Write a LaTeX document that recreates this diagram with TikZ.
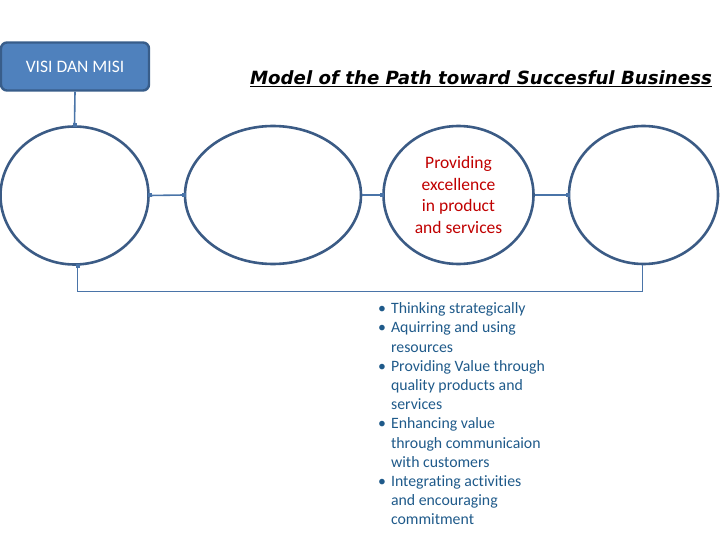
\documentclass[tikz,border=0pt]{standalone}
\usepackage{fontspec}
\setmainfont{Carlito}[Ligatures=NoCommon]
\newfontfamily\titlefont{DejaVu Sans}
\usetikzlibrary{shapes.geometric,calc}
\definecolor{boxfill}{HTML}{4F81BD}
\definecolor{boxline}{HTML}{385D8A}
\definecolor{ringline}{HTML}{3B5B85}
\definecolor{conn}{HTML}{4A74A8}
\definecolor{redtxt}{HTML}{C00000}
\definecolor{bluetxt}{HTML}{1F5A8A}
\tikzset{
  ring/.style={ellipse, draw=ringline, line width=2.6pt, inner sep=0pt},
  link/.style={draw=conn, line width=1.6pt},
  thin link/.style={draw=conn, line width=1pt},
  dot/.style={fill=conn, minimum size=4pt, inner sep=0pt, rectangle}
}
\begin{document}
\begin{tikzpicture}[x=1pt,y=-1pt]
\useasboundingbox (0,0) rectangle (720,540);
% top box
\node[rectangle, rounded corners=6pt, fill=boxfill, draw=boxline, line width=2.4pt,
      minimum width=148pt, minimum height=48pt, text=white,
      font=\fontsize{17.5}{20}\selectfont] (vm) at (75,66.5) {VISI DAN MISI};
% title
\node[font=\titlefont\bfseries\itshape\fontsize{18.2}{22}\selectfont, anchor=base] (title) at (481,85)
  {\underline{Model of the Path toward Succesful Business}};
% rings
\node[ring, minimum width=148pt, minimum height=138pt] (c1) at (74.5,195.5) {};
\node[ring, minimum width=176pt, minimum height=138pt] (c2) at (273,195) {};
\node[ring, minimum width=150pt, minimum height=138pt, text=redtxt, align=center,
      font=\fontsize{17.5}{21.5}\selectfont] (c3) at (458.5,195) {Providing\\excellence\\in product\\and services};
\node[ring, minimum width=149pt, minimum height=138pt] (c4) at (643.5,195) {};
% connectors
\draw[link] (vm.south) -- (c1.north);
\node[dot] at (c1.north) {};
\draw[link] (c1.east) -- (c2.west);
\node[dot] at (c1.east) {};
\node[dot] at (c2.west) {};
\draw[link] (c2.east) -- (c3.west);
\node[dot] at (c3.west) {};
\draw[link] (c3.east) -- (c4.west);
\node[dot] at (c4.west) {};
\coordinate (b1) at ($(c1.south)+(3,0)$);
\coordinate (b4) at ($(c4.south)+(-1,0)$);
\draw[thin link] (b1) -- ++(0,26) -| (b4);
\node[dot] at (b1) {};
% bullets
\node[anchor=north west, text=bluetxt, inner sep=0pt,
      font=\fontsize{15.8}{19.2}\selectfont] (list) at (378,300) {%
\renewcommand\arraystretch{1}%
\begin{tabular}{@{}l@{\hspace{5pt}}l@{}}
\textbullet & Thinking strategically\\
\textbullet & Aquirring and using\\
 & resources\\
\textbullet & Providing Value through\\
 & quality products and\\
 & services\\
\textbullet & Enhancing value\\
 & through communicaion\\
 & with customers\\
\textbullet & Integrating activities\\
 & and encouraging\\
 & commitment
\end{tabular}};
\end{tikzpicture}
\end{document}
